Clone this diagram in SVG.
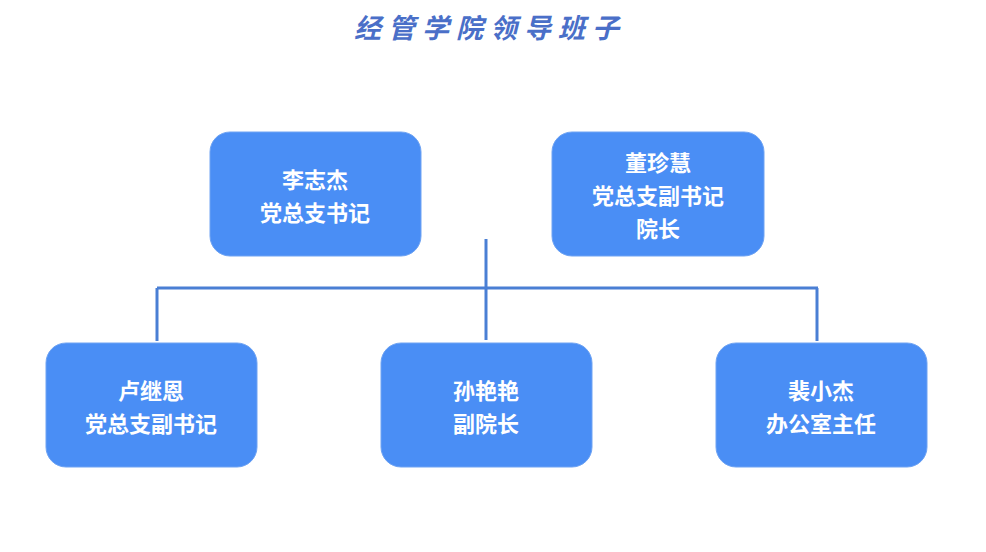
<svg xmlns="http://www.w3.org/2000/svg" width="986" height="552" viewBox="0 0 986 552">
<style>
.node rect{fill:#4a8ef5;stroke:#6ea3f3;stroke-width:1}
.node text{fill:#ffffff;font-family:"Noto Sans CJK SC","Noto Sans",sans-serif;font-weight:bold;font-size:22px;text-anchor:middle}
.conn line{stroke:#4a7fd4;stroke-width:3;stroke-linecap:butt}
.title{fill:#4a6fc8;font-family:"Noto Sans CJK SC",serif;font-size:27px;font-style:italic;font-weight:bold;text-anchor:middle;letter-spacing:7px}
</style>
<rect width="986" height="552" fill="#ffffff"/>
<text class="title" x="490" y="38">经管学院领导班子</text>
<g id="connectors" class="conn">
<line x1="486" y1="239" x2="486" y2="340"/>
<line x1="157" y1="288" x2="818" y2="288"/>
<line x1="157" y1="288" x2="157" y2="341"/>
<line x1="817" y1="288" x2="817" y2="341"/>
</g>
<g id="n1" class="node"><rect x="210" y="132" width="211" height="124" rx="20"/><text x="315" y="188">李志杰</text><text x="315" y="221">党总支书记</text></g>
<g id="n2" class="node"><rect x="552" y="132" width="212" height="124" rx="20"/><text x="658" y="171">董珍慧</text><text x="658" y="204">党总支副书记</text><text x="658" y="237">院长</text></g>
<g id="n3" class="node"><rect x="46" y="343" width="211" height="124" rx="20"/><text x="151" y="399">卢继恩</text><text x="151" y="432">党总支副书记</text></g>
<g id="n4" class="node"><rect x="381" y="343" width="211" height="124" rx="20"/><text x="486" y="399">孙艳艳</text><text x="486" y="432">副院长</text></g>
<g id="n5" class="node"><rect x="716" y="343" width="211" height="124" rx="20"/><text x="821" y="399">裴小杰</text><text x="821" y="432">办公室主任</text></g>
</svg>
